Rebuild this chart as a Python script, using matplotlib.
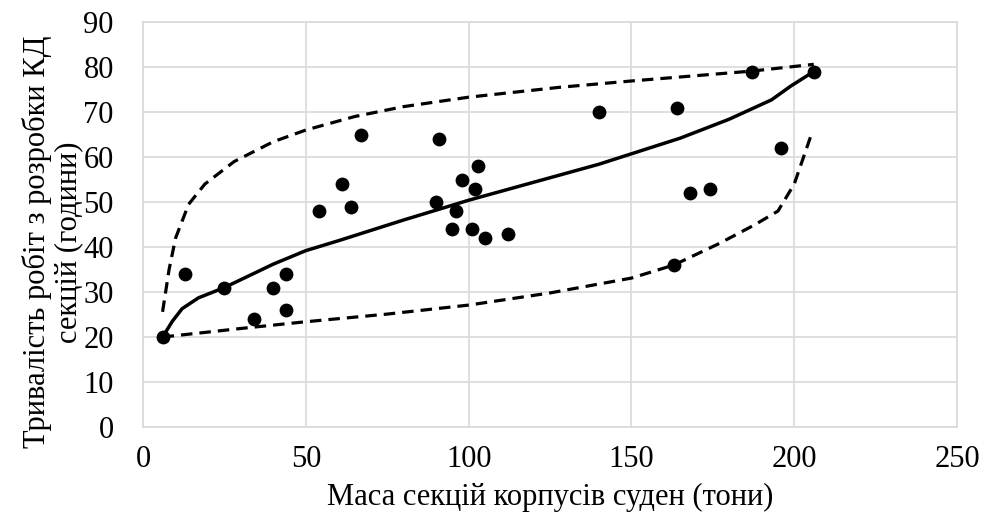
import matplotlib
matplotlib.use("Agg")
import matplotlib.pyplot as plt

# Observed sections: mass (t) vs design duration (h)
mass = [6, 13, 25, 34, 40, 44, 44, 54, 61, 64, 67, 90, 91, 95, 96, 98,
        101, 102, 103, 105, 112, 140, 163, 164, 168, 174, 187, 196, 206]
hours = [20, 34, 31, 24, 31, 34, 26, 48, 54, 49, 65, 50, 64, 44, 48, 55,
         44, 53, 58, 42, 43, 70, 36, 71, 52, 53, 79, 62, 79]

# Mean curve
mean_x = [6, 9, 12, 17, 25, 40, 50, 60, 80, 100, 120, 140, 165, 180, 193, 199, 206]
mean_y = [20, 23.5, 26.3, 28.7, 31, 36.2, 39.2, 41.4, 46.0, 50.4, 54.4, 58.4,
          64.2, 68.4, 72.7, 75.8, 79]

# Upper bound
upper_x = [6, 8, 10, 14, 19, 28, 40, 50, 65, 80, 100, 128, 150, 187, 206]
upper_y = [25.6, 35, 42, 49.5, 54, 59, 63.4, 66, 69, 71.2, 73.3, 75.5, 76.9, 79.1, 80.6]

# Lower bound
lower_x = [6, 30, 50, 75, 100, 125, 150, 163, 177, 188, 195, 200, 205]
lower_y = [20, 21.9, 23.4, 25.1, 27.1, 29.8, 33.1, 36, 40.8, 45, 48, 54, 64.5]

plt.rcParams['font.family'] = ['Liberation Serif', 'DejaVu Serif']
plt.rcParams['font.size'] = 22

fig = plt.figure(figsize=(9.81, 5.17), dpi=100)
ax = fig.add_axes([0.1458, 0.174, 0.8298, 0.7834])

ax.plot(upper_x, upper_y, color='black', lw=2.3, linestyle=(0, (3.6, 2.2)),
        solid_capstyle='butt', zorder=3)
ax.plot(lower_x, lower_y, color='black', lw=2.3, linestyle=(0, (3.6, 2.2)),
        solid_capstyle='butt', zorder=3)
ax.plot(mean_x, mean_y, color='black', lw=2.5, zorder=3)
ax.scatter(mass, hours, s=80, color='black', zorder=4)

ax.set_xlim(0, 250)
ax.set_ylim(0, 90)
ax.set_xticks(range(0, 251, 50))
ax.set_yticks(range(0, 91, 10))
ax.grid(True, color='#d9d9d9', lw=1.2)
ax.set_axisbelow(True)
for s in ax.spines.values():
    s.set_color('#d9d9d9')
    s.set_linewidth(1.2)
ax.tick_params(axis='x', length=0, pad=13)
ax.tick_params(axis='y', length=0, pad=21)

ax.set_xlabel('Маса секцій корпусів суден (тони)')
ax.xaxis.set_label_coords(0.5, -0.138)
ax.set_ylabel('Тривалість робіт з розробки КД\nсекцій (години)', linespacing=1.1)
ax.yaxis.set_label_coords(-0.074, 0.457)

fig.savefig('out.png', dpi=100)
